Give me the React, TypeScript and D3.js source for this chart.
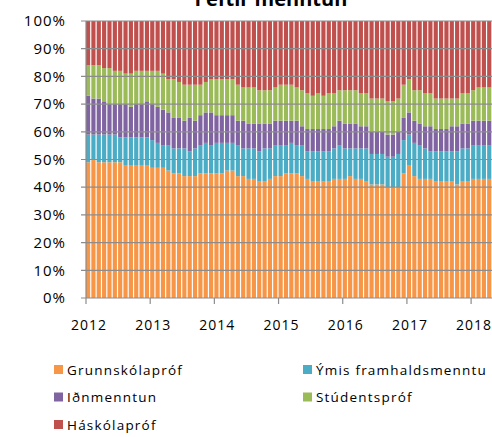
import React from "react";
import * as d3 from "d3";

// months from Jan 2012, boundaries (cumulative %)
const grunnskola = [49,50,49,49,49,49,49,48,48,48,48,48,47,47,47,46,45,45,44,44,44,45,45,45,45,45,46,46,44,44,43,43,42,42,43,44,44,45,45,45,44,43,42,42,42,42,43,43,43,44,43,43,42,41,41,41,40,40,40,45,48,44,43,43,43,42,42,42,42,41,42,42,43,43,43,43,44];
const ymisTop = [59,59,59,59,59,59,58,58,58,58,58,58,57,56,55,55,54,54,54,53,54,55,56,55,56,56,56,56,55,54,54,54,53,54,54,55,55,55,56,55,55,53,53,53,53,53,54,55,54,54,54,54,54,52,52,52,51,51,52,57,59,56,55,54,53,53,53,53,53,53,54,54,55,55,55,55,55];
const idnTop = [73,72,72,71,70,70,70,70,69,70,70,71,70,69,68,67,65,65,64,65,64,66,67,67,66,66,66,66,64,64,63,63,63,63,63,64,64,64,64,64,62,61,61,61,61,61,62,64,63,63,63,62,62,60,60,60,59,59,60,65,67,64,63,62,62,61,61,61,62,62,63,63,64,64,64,64,64];
const studentTop = [84,84,84,83,83,82,82,81,81,82,82,82,82,82,81,79,79,78,77,77,77,77,78,79,79,79,79,79,77,76,76,76,75,75,75,76,77,77,77,76,75,74,73,74,73,74,74,75,75,75,75,74,74,72,72,72,71,71,72,77,79,75,75,74,74,72,72,72,72,72,74,74,75,76,76,76,76];

const seriesNames = ["Grunnskólapróf", "Ýmis framhaldsmenntu", "Iðnmenntun", "Stúdentspróf", "Háskólapróf"];
const colors = ["#F79646", "#4BACC6", "#8064A2", "#9BBB59", "#C0504D"];
const yearLabels = ["2012", "2013", "2014", "2015", "2016", "2017", "2018"];
const yTicks = [0, 10, 20, 30, 40, 50, 60, 70, 80, 90, 100];

const months = grunnskola.map((_, i) => i);
const rows = months.map((i) => ({
  m: i,
  [seriesNames[0]]: grunnskola[i],
  [seriesNames[1]]: ymisTop[i] - grunnskola[i],
  [seriesNames[2]]: idnTop[i] - ymisTop[i],
  [seriesNames[3]]: studentTop[i] - idnTop[i],
  [seriesNames[4]]: 100 - studentTop[i],
}));

const W = 492, H = 437;
const left = 86, top = 21, bottom = 298;
const step = 64 / 12;

export default function App() {
  const x = d3.scaleBand<number>()
    .domain(months)
    .range([left, left + months.length * step])
    .paddingInner(0.22)
    .paddingOuter(0);
  const y = d3.scaleLinear().domain([0, 100]).range([bottom, top]);
  const stack = d3.stack<any>().keys(seriesNames);
  const layers = stack(rows as any);
  const font = "'Open Sans', sans-serif";
  const grid = "#8c8c8c";

  return (
    <svg width={W} height={H} style={{ position: "absolute", left: 0, top: 0, background: "#fff" }} fontFamily={font}>
      <text x={271} y={6} textAnchor="middle" fontSize={20} fontWeight="bold" fill="#000">í eftir menntun</text>
      {layers.map((layer, li) => (
        <g key={li} fill={colors[li]}>
          {layer.map((d, i) => (
            <rect key={i} x={x(i)} width={x.bandwidth()} y={y(d[1])} height={y(d[0]) - y(d[1])} />
          ))}
        </g>
      ))}
      {yTicks.map((t) => (
        <g key={t}>
          <line x1={left - 5} x2={W} y1={y(t)} y2={y(t)} stroke={grid} strokeWidth={1.2} />
          <text x={66} y={y(t)} dy="0.35em" textAnchor="end" fontSize={15} letterSpacing={1} fill="#000">{t}%</text>
        </g>
      ))}
      <line x1={left} x2={left} y1={top} y2={bottom} stroke={grid} strokeWidth={1.2} />
      {yearLabels.map((lab, k) => {
        const xp = x(k * 12)!;
        return (
          <g key={lab}>
            <line x1={xp} x2={xp} y1={bottom} y2={bottom + 6} stroke={grid} strokeWidth={1.2} />
            <text x={xp + 3} y={330} textAnchor="middle" fontSize={14} letterSpacing={1} fill="#000">{lab}</text>
          </g>
        );
      })}
      {seriesNames.map((name, i) => {
        const col = i % 2, row = Math.floor(i / 2);
        const lx = col === 0 ? 54 : 303;
        const ly = 370 + row * 27.5;
        return (
          <g key={name}>
            <rect x={lx} y={ly - 5} width={9} height={9} fill={colors[i]} />
            <text x={lx + 13} y={ly} dy="0.35em" fontSize={13.5} letterSpacing={1.2} fill="#000">{name}</text>
          </g>
        );
      })}
    </svg>
  );
}
